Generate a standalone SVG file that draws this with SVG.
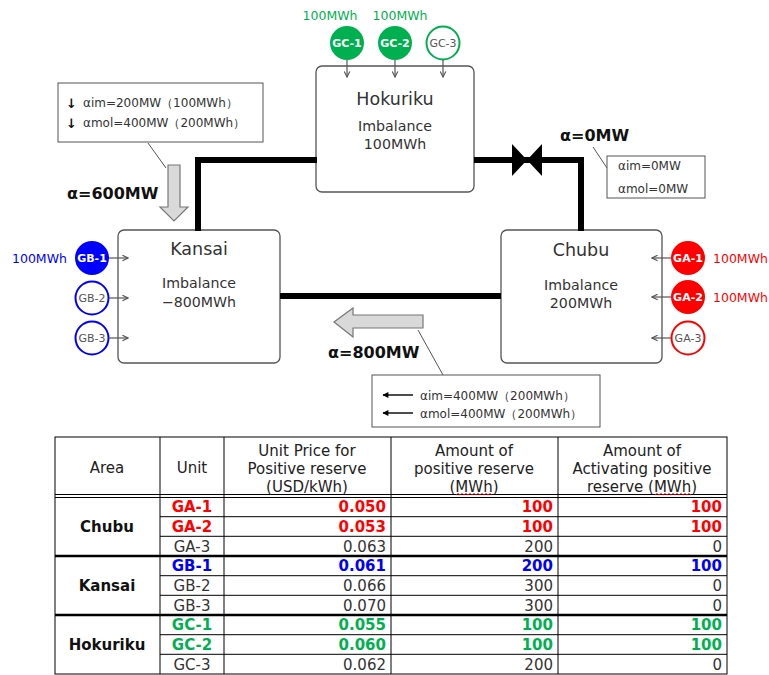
<svg xmlns="http://www.w3.org/2000/svg" width="769" height="675" viewBox="0 0 769 675">
  <style>
    text { font-family: "DejaVu Sans", Verdana, sans-serif; }
    .box { fill: #fff; stroke: #555; stroke-width: 1.3; }
    .title { font-size: 17.5px; fill: #333; text-anchor: middle; }
    .sub { font-size: 14.2px; fill: #333; text-anchor: middle; }
    .tie { fill: none; stroke: #000; stroke-width: 6; }
    .feed { stroke: #555; stroke-width: 1.2; fill: none; marker-end: url(#open); }
    .ann { fill: #fff; stroke: #555; stroke-width: 1; }
    .ann-t { font-size: 12px; fill: #333; }
    .lead { stroke: #555; stroke-width: 1; fill: none; }
    .alpha { font-size: 16px; font-weight: bold; fill: #111; }
    .flow { fill: #d9d9d9; stroke: #777; stroke-width: 1.2; }
    .g-lbl { font-size: 11px; text-anchor: middle; }
    .on { fill: #fff; font-weight: bold; }
    .off { fill: #555; }
    .mwh { font-size: 12.5px; }
    .grid { stroke: #000; stroke-width: 1; fill: none; }
    .sep { stroke: #000; stroke-width: 2.5; fill: none; }
    .th { font-size: 15px; fill: #222; text-anchor: middle; }
    .area { font-size: 15px; font-weight: bold; fill: #111; text-anchor: middle; }
    .td { font-size: 15px; fill: #333; }
    .c { text-anchor: middle; }
    .r { text-anchor: end; }
    .b { font-weight: bold; }
    .green { fill: #00b050; }
    .blue { fill: #0000ff; }
    .red { fill: #ff0000; }
    .squig { fill: none; stroke: #ff0000; stroke-width: 0.9; }
  </style>
  <defs>
    <marker id="open" viewBox="0 0 10 10" refX="9" refY="5" markerWidth="7" markerHeight="7" orient="auto" markerUnits="userSpaceOnUse">
      <path d="M1,1 L9,5 L1,9" fill="none" stroke="#555" stroke-width="1.6"/>
    </marker>
    <marker id="solid" viewBox="0 0 10 10" refX="9" refY="5" markerWidth="7" markerHeight="6" orient="auto" markerUnits="userSpaceOnUse">
      <path d="M0,0 L10,5 L0,10 Z" fill="#000"/>
    </marker>
  </defs>

  <!-- areas -->
  <g id="hokuriku">
    <rect class="box" x="316" y="66" width="158" height="126" rx="6"/>
    <text class="title" x="395" y="104.5">Hokuriku</text>
    <text class="sub" x="395" y="131">Imbalance</text>
    <text class="sub" x="395" y="149">100MWh</text>
  </g>
  <g id="kansai">
    <rect class="box" x="118" y="230" width="162" height="133" rx="6"/>
    <text class="title" x="199" y="254.5">Kansai</text>
    <text class="sub" x="199" y="288">Imbalance</text>
    <text class="sub" x="199" y="307">−800MWh</text>
  </g>
  <g id="chubu">
    <rect class="box" x="501" y="230" width="161" height="133" rx="6"/>
    <text class="title" x="581" y="255.5">Chubu</text>
    <text class="sub" x="581" y="290">Imbalance</text>
    <text class="sub" x="581" y="308">200MWh</text>
  </g>

  <!-- Hokuriku units -->
  <g id="gc-1">
    <circle cx="347" cy="43" r="17" fill="#00b050"/>
    <text class="g-lbl on" x="347" y="47">GC-1</text>
    <text class="mwh green" x="330" y="20" text-anchor="middle">100MWh</text>
  </g>
  <g id="gc-2">
    <circle cx="395" cy="43" r="17" fill="#00b050"/>
    <text class="g-lbl on" x="395" y="47">GC-2</text>
    <text class="mwh green" x="400" y="20" text-anchor="middle">100MWh</text>
  </g>
  <g id="gc-3">
    <circle cx="443" cy="43" r="16.5" fill="#fff" stroke="#00b050" stroke-width="2"/>
    <text class="g-lbl off" x="443" y="47">GC-3</text>
  </g>

  <!-- Kansai units -->
  <g id="gb-1">
    <circle cx="92" cy="258" r="17" fill="#0000ff"/>
    <text class="g-lbl on" x="92" y="262">GB-1</text>
    <text class="mwh blue" x="12" y="262.5">100MWh</text>
  </g>
  <g id="gb-2">
    <circle cx="92" cy="298" r="16.5" fill="#fff" stroke="#0000ff" stroke-width="2"/>
    <text class="g-lbl off" x="92" y="302">GB-2</text>
  </g>
  <g id="gb-3">
    <circle cx="92" cy="338" r="16.5" fill="#fff" stroke="#0000ff" stroke-width="2"/>
    <text class="g-lbl off" x="92" y="342">GB-3</text>
  </g>

  <!-- Chubu units -->
  <g id="ga-1">
    <circle cx="688" cy="258" r="17" fill="#ff0000"/>
    <text class="g-lbl on" x="688" y="262">GA-1</text>
    <text class="mwh red" x="713" y="262.5">100MWh</text>
  </g>
  <g id="ga-2">
    <circle cx="688" cy="297" r="17" fill="#ff0000"/>
    <text class="g-lbl on" x="688" y="301">GA-2</text>
    <text class="mwh red" x="713" y="301.5">100MWh</text>
  </g>
  <g id="ga-3">
    <circle cx="688" cy="338" r="16.5" fill="#fff" stroke="#ff0000" stroke-width="2"/>
    <text class="g-lbl off" x="688" y="342">GA-3</text>
  </g>

  <!-- tie lines between areas and unit feeds -->
  <g id="connectors">
    <path class="tie" d="M198,231 V160 H317"/>
    <path class="tie" d="M474,160 H581 V231"/>
    <path class="tie" d="M280,296 H501"/>
    <!-- valve on the Hokuriku-Chubu tie -->
    <polygon points="512,144 512,176 527,160" fill="#000"/>
    <polygon points="542,144 542,176 527,160" fill="#000"/>
    <line class="feed" x1="347" y1="60" x2="347" y2="77"/>
    <line class="feed" x1="395" y1="60" x2="395" y2="77"/>
    <line class="feed" x1="443" y1="60" x2="443" y2="77"/>
    <line class="feed" x1="109" y1="258" x2="128" y2="258"/>
    <line class="feed" x1="109" y1="298" x2="128" y2="298"/>
    <line class="feed" x1="109" y1="338" x2="128" y2="338"/>
    <line class="feed" x1="671" y1="258" x2="652" y2="258"/>
    <line class="feed" x1="671" y1="297" x2="652" y2="297"/>
    <line class="feed" x1="671" y1="338" x2="652" y2="338"/>
  </g>

  <!-- flow into Kansai from Hokuriku -->
  <g id="flow-hk">
    <rect class="ann" x="58" y="83" width="205" height="59"/>
    <text x="66" y="107.5" font-size="13" font-weight="bold" fill="#111">↓</text>
    <text class="ann-t" x="83" y="106.5">αim=200MW（100MWh）</text>
    <text x="66" y="127.5" font-size="13" font-weight="bold" fill="#111">↓</text>
    <text class="ann-t" x="83" y="126.5">αmol=400MW（200MWh）</text>
    <line class="lead" x1="148" y1="143" x2="166" y2="168"/>
    <polygon class="flow" points="168,165 180,165 180,207 188,207 174,221 160,207 168,207"/>
    <text class="alpha" x="67" y="199">α=600MW</text>
  </g>

  <!-- flow on the valve tie -->
  <g id="flow-hc">
    <text class="alpha" x="560" y="141">α=0MW</text>
    <line class="lead" x1="593" y1="147" x2="607" y2="168"/>
    <rect class="ann" x="607" y="156" width="98" height="42"/>
    <text class="ann-t" x="618" y="170">αim=0MW</text>
    <text class="ann-t" x="618" y="193">αmol=0MW</text>
  </g>

  <!-- flow into Kansai from Chubu -->
  <g id="flow-ck">
    <polygon class="flow" points="334,322 353,308 353,315 423,315 423,328 353,328 353,337"/>
    <text class="alpha" x="328" y="358">α=800MW</text>
    <line class="lead" x1="418" y1="330" x2="443" y2="375"/>
    <rect class="ann" x="372" y="375" width="228" height="52"/>
    <line x1="413" y1="395" x2="383" y2="395" stroke="#000" stroke-width="1.4" marker-end="url(#solid)"/>
    <text class="ann-t" x="420" y="399.5">αim=400MW（200MWh）</text>
    <line x1="413" y1="413" x2="383" y2="413" stroke="#000" stroke-width="1.4" marker-end="url(#solid)"/>
    <text class="ann-t" x="420" y="417.5">αmol=400MW（200MWh）</text>
  </g>

  <!-- reserve table -->
  <g id="table">
    <rect class="grid" x="55" y="437" width="672" height="237"/>
    <line class="grid" x1="160" y1="437" x2="160" y2="674"/>
    <line class="grid" x1="224" y1="437" x2="224" y2="674"/>
    <line class="grid" x1="391" y1="437" x2="391" y2="674"/>
    <line class="grid" x1="558" y1="437" x2="558" y2="674"/>
    <line class="grid" x1="55" y1="494.5" x2="727" y2="494.5"/>
    <line class="grid" x1="55" y1="497.5" x2="727" y2="497.5"/>
    <line class="grid" x1="160" y1="516.7" x2="727" y2="516.7"/>
    <line class="grid" x1="160" y1="536.3" x2="727" y2="536.3"/>
    <line class="sep" x1="55" y1="556" x2="727" y2="556"/>
    <line class="grid" x1="160" y1="575.7" x2="727" y2="575.7"/>
    <line class="grid" x1="160" y1="595.3" x2="727" y2="595.3"/>
    <line class="sep" x1="55" y1="615" x2="727" y2="615"/>
    <line class="grid" x1="160" y1="634.7" x2="727" y2="634.7"/>
    <line class="grid" x1="160" y1="654.3" x2="727" y2="654.3"/>

    <text class="th" x="107" y="472.5">Area</text>
    <text class="th" x="192" y="472.5">Unit</text>
    <text class="th" x="307" y="455.5">Unit Price for</text>
    <text class="th" x="307" y="473.5">Positive reserve</text>
    <text class="th" x="307" y="491.5">(USD/kWh)</text>
    <text class="th" x="474" y="455.5">Amount of</text>
    <text class="th" x="474" y="473.5">positive reserve</text>
    <text class="th" x="474" y="491.5">(MWh)</text>
    <text class="th" x="642" y="455.5">Amount of</text>
    <text class="th" x="642" y="473.5">Activating positive</text>
    <text class="th" x="642" y="491.5">reserve (MWh)</text>
    <path class="squig" d="M456,495 l2,-1.5 l2,1.5 l2,-1.5 l2,1.5 l2,-1.5 l2,1.5 l2,-1.5 l2,1.5 l2,-1.5 l2,1.5 l2,-1.5 l2,1.5 l2,-1.5 l2,1.5 l2,-1.5 l2,1.5 l2,-1.5 l2,1.5"/>
    <path class="squig" d="M655,495 l2,-1.5 l2,1.5 l2,-1.5 l2,1.5 l2,-1.5 l2,1.5 l2,-1.5 l2,1.5 l2,-1.5 l2,1.5 l2,-1.5 l2,1.5 l2,-1.5 l2,1.5 l2,-1.5 l2,1.5 l2,-1.5 l2,1.5"/>

    <text class="area" x="107" y="532">Chubu</text>
    <text class="area" x="107" y="591">Kansai</text>
    <text class="area" x="107" y="650">Hokuriku</text>

    <!-- Chubu rows -->
    <text class="td c b red" x="192" y="512.3">GA-1</text>
    <text class="td r b red" x="386" y="512.3">0.050</text>
    <text class="td r b red" x="553" y="512.3">100</text>
    <text class="td r b red" x="722" y="512.3">100</text>
    <text class="td c b red" x="192" y="532">GA-2</text>
    <text class="td r b red" x="386" y="532">0.053</text>
    <text class="td r b red" x="553" y="532">100</text>
    <text class="td r b red" x="722" y="532">100</text>
    <text class="td c" x="192" y="551.7">GA-3</text>
    <text class="td r" x="386" y="551.7">0.063</text>
    <text class="td r" x="553" y="551.7">200</text>
    <text class="td r" x="722" y="551.7">0</text>

    <!-- Kansai rows -->
    <text class="td c b blue" x="192" y="571.3">GB-1</text>
    <text class="td r b blue" x="386" y="571.3">0.061</text>
    <text class="td r b blue" x="553" y="571.3">200</text>
    <text class="td r b blue" x="722" y="571.3">100</text>
    <text class="td c" x="192" y="591">GB-2</text>
    <text class="td r" x="386" y="591">0.066</text>
    <text class="td r" x="553" y="591">300</text>
    <text class="td r" x="722" y="591">0</text>
    <text class="td c" x="192" y="610.7">GB-3</text>
    <text class="td r" x="386" y="610.7">0.070</text>
    <text class="td r" x="553" y="610.7">300</text>
    <text class="td r" x="722" y="610.7">0</text>

    <!-- Hokuriku rows -->
    <text class="td c b green" x="192" y="630.3">GC-1</text>
    <text class="td r b green" x="386" y="630.3">0.055</text>
    <text class="td r b green" x="553" y="630.3">100</text>
    <text class="td r b green" x="722" y="630.3">100</text>
    <text class="td c b green" x="192" y="650">GC-2</text>
    <text class="td r b green" x="386" y="650">0.060</text>
    <text class="td r b green" x="553" y="650">100</text>
    <text class="td r b green" x="722" y="650">100</text>
    <text class="td c" x="192" y="669.7">GC-3</text>
    <text class="td r" x="386" y="669.7">0.062</text>
    <text class="td r" x="553" y="669.7">200</text>
    <text class="td r" x="722" y="669.7">0</text>
  </g>
</svg>
